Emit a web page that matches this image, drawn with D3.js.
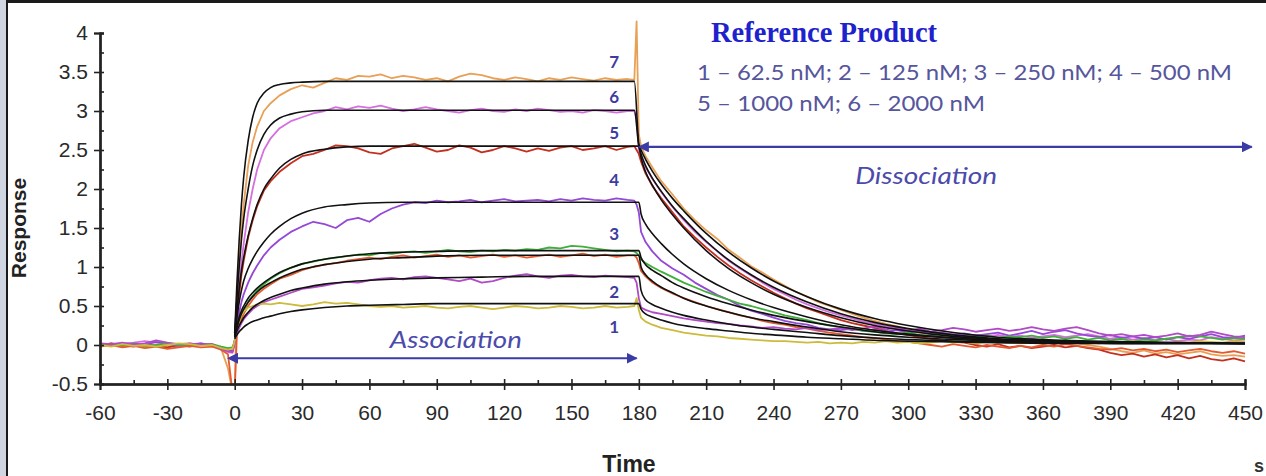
<!DOCTYPE html>
<html>
<head>
<meta charset="utf-8">
<script src="https://cdn.jsdelivr.net/npm/d3@7"></script>
<style>
  body { margin: 0; background: #fff; }
</style>
</head>
<body>
<svg class="chart" width="1266" height="476"></svg>
<script>
// time points of the measured traces (s)
var tMeas = [-60,-55,-50,-45,-40,-35,-30,-25,-20,-15,-10,-6,-3,-1,
  0,1,2,3,4,6,8,10,13,16,20,25,
  30,35,40,45,50,55,60,65,70,75,80,85,90,95,100,105,110,115,120,125,130,135,140,145,150,155,160,165,170,175,
  178,179,180,181,183,186,
  190,195,200,205,210,215,220,225,230,235,240,245,250,255,260,265,270,275,280,285,290,295,300,
  305,310,315,320,325,330,335,340,345,350,355,360,365,370,375,380,385,390,395,400,405,410,415,420,425,430,435,440,445,450];

// measured responses, one array per trace
var trace7 = [0.0,0.02,-0.01,0.01,-0.02,0.0,-0.03,-0.01,0.02,0.0,0.01,-0.05,-0.3,-0.6,
  -0.6,0.6,1.1,1.5,1.8,2.3,2.6,2.8,3.0,3.1,3.2,3.28,
  3.33,3.3,3.36,3.42,3.4,3.45,3.44,3.47,3.42,3.45,3.43,3.4,3.42,3.38,3.44,3.48,3.46,3.42,3.4,3.43,3.41,3.38,3.42,3.4,3.43,3.41,3.39,3.42,3.4,3.41,
  3.4,4.15,2.7,2.55,2.42,2.28,
  2.1,1.93,1.75,1.6,1.47,1.36,1.22,1.12,1.01,0.93,0.84,0.76,0.68,0.62,0.55,0.5,0.45,0.4,0.35,0.31,0.27,0.24,0.2,
  0.16,0.14,0.12,0.1,0.08,0.05,0.04,0.06,0.03,0.02,0.04,0.02,0.03,0.01,0.02,0.0,-0.02,-0.05,-0.08,-0.1,-0.07,-0.11,-0.09,-0.12,-0.1,-0.08,-0.12,-0.14,-0.13,-0.15];
var trace6 = [0.01,0.0,0.02,0.03,0.05,0.03,0.02,0.0,0.01,0.02,0.0,-0.06,-0.09,-0.1,
  0.0,0.4,0.75,1.05,1.3,1.7,2.0,2.25,2.5,2.65,2.78,2.87,
  2.92,2.97,3.0,3.05,3.02,3.06,3.04,3.07,3.03,3.0,3.02,3.05,3.02,3.0,2.98,3.01,3.03,3.0,2.99,3.02,3.0,3.03,3.01,2.99,3.0,2.98,3.01,3.0,2.98,3.0,
  3.0,2.9,2.5,2.4,2.28,2.13,
  1.96,1.77,1.6,1.45,1.32,1.2,1.08,0.98,0.89,0.8,0.72,0.65,0.58,0.52,0.47,0.42,0.38,0.34,0.3,0.27,0.24,0.22,0.2,
  0.19,0.16,0.15,0.14,0.13,0.12,0.11,0.13,0.1,0.12,0.09,0.11,0.13,0.1,0.12,0.14,0.11,0.08,0.1,0.07,0.09,0.06,0.08,0.05,0.07,0.06,0.1,0.08,0.06,0.07];
var trace5 = [-0.01,0.02,0.0,-0.02,0.01,-0.01,-0.03,0.0,-0.02,0.01,0.0,-0.03,-0.05,-0.08,
  0.05,0.35,0.65,0.9,1.08,1.38,1.6,1.78,1.98,2.1,2.22,2.33,
  2.42,2.45,2.5,2.56,2.55,2.52,2.47,2.45,2.52,2.55,2.58,2.53,2.48,2.5,2.56,2.53,2.47,2.5,2.55,2.52,2.48,2.52,2.49,2.53,2.55,2.5,2.52,2.55,2.5,2.54,
  2.55,2.5,2.45,2.35,2.2,2.04,
  1.88,1.7,1.52,1.38,1.25,1.13,1.02,0.92,0.83,0.75,0.67,0.6,0.53,0.47,0.42,0.37,0.32,0.28,0.25,0.22,0.18,0.15,0.13,
  0.1,0.08,0.06,0.04,0.03,0.0,-0.02,0.01,-0.03,-0.01,-0.04,-0.02,0.0,-0.03,-0.01,-0.04,-0.06,-0.1,-0.13,-0.11,-0.15,-0.12,-0.16,-0.13,-0.17,-0.14,-0.18,-0.2,-0.17,-0.21];
var trace4 = [0.0,0.01,-0.01,0.02,0.0,0.04,0.01,-0.01,0.0,0.02,-0.01,-0.04,-0.07,-0.06,
  0.05,0.25,0.42,0.55,0.65,0.8,0.92,1.02,1.15,1.25,1.35,1.45,
  1.52,1.58,1.55,1.5,1.6,1.63,1.58,1.68,1.75,1.8,1.83,1.82,1.85,1.83,1.84,1.86,1.83,1.85,1.87,1.84,1.85,1.86,1.84,1.87,1.85,1.88,1.86,1.85,1.88,1.86,
  1.85,1.8,1.7,1.45,1.32,1.2,
  1.08,0.98,0.9,0.8,0.72,0.64,0.58,0.5,0.44,0.4,0.35,0.31,0.28,0.26,0.22,0.2,0.19,0.21,0.18,0.2,0.17,0.19,0.16,
  0.18,0.14,0.16,0.13,0.15,0.12,0.14,0.16,0.12,0.15,0.18,0.14,0.17,0.19,0.15,0.12,0.1,0.13,0.09,0.11,0.08,0.1,0.07,0.1,0.08,0.11,0.14,0.1,0.09,0.12];
var trace3a = [0.01,-0.01,0.0,0.01,-0.01,0.0,0.02,0.0,-0.01,0.0,0.01,-0.02,-0.04,-0.03,
  0.05,0.18,0.28,0.36,0.43,0.55,0.63,0.7,0.78,0.85,0.92,0.99,
  1.04,1.07,1.1,1.12,1.14,1.16,1.15,1.18,1.17,1.19,1.2,1.18,1.2,1.22,1.2,1.19,1.21,1.2,1.22,1.21,1.23,1.22,1.25,1.24,1.27,1.26,1.24,1.22,1.2,1.21,
  1.2,1.18,1.15,1.1,1.05,1.0,
  0.94,0.87,0.8,0.74,0.68,0.63,0.58,0.53,0.5,0.46,0.42,0.38,0.35,0.32,0.28,0.25,0.23,0.21,0.18,0.17,0.15,0.14,0.16,
  0.13,0.12,0.14,0.11,0.12,0.1,0.12,0.09,0.11,0.1,0.12,0.09,0.11,0.08,0.1,0.07,0.09,0.06,0.08,0.05,0.07,0.06,0.08,0.1,0.12,0.11,0.09,0.07,0.09,0.08];
var trace3b = [-0.02,0.0,-0.03,-0.01,-0.04,-0.02,-0.05,-0.03,-0.01,-0.03,-0.02,-0.06,-0.12,-0.6,
  -0.6,0.15,0.25,0.33,0.4,0.5,0.58,0.65,0.72,0.78,0.85,0.9,
  0.96,1.0,1.03,1.05,1.08,1.1,1.12,1.1,1.13,1.15,1.12,1.14,1.16,1.13,1.15,1.12,1.14,1.16,1.13,1.15,1.12,1.14,1.16,1.13,1.15,1.17,1.14,1.16,1.13,1.15,
  1.15,1.12,1.05,0.95,0.88,0.8,
  0.73,0.66,0.6,0.55,0.5,0.46,0.42,0.38,0.35,0.31,0.28,0.26,0.23,0.21,0.18,0.16,0.14,0.12,0.1,0.09,0.07,0.05,0.04,
  0.02,0.0,-0.02,0.01,-0.01,-0.03,0.0,-0.02,-0.04,-0.01,-0.03,0.0,-0.02,0.01,-0.01,-0.03,-0.05,-0.06,-0.04,-0.07,-0.05,-0.08,-0.06,-0.09,-0.07,-0.05,-0.08,-0.1,-0.08,-0.11];
var trace2 = [0.02,0.01,0.03,0.0,0.02,0.06,0.03,0.01,0.02,0.0,0.01,-0.05,-0.08,-0.09,
  0.05,0.14,0.22,0.28,0.33,0.4,0.46,0.5,0.55,0.58,0.62,0.67,
  0.72,0.74,0.76,0.79,0.81,0.8,0.83,0.85,0.86,0.84,0.87,0.88,0.86,0.84,0.82,0.85,0.8,0.82,0.86,0.89,0.91,0.88,0.86,0.89,0.9,0.88,0.87,0.89,0.88,0.87,
  0.86,0.8,0.6,0.48,0.45,0.42,
  0.4,0.37,0.34,0.32,0.3,0.28,0.27,0.25,0.24,0.22,0.23,0.21,0.2,0.22,0.19,0.2,0.22,0.19,0.21,0.24,0.2,0.22,0.18,
  0.21,0.17,0.19,0.22,0.2,0.17,0.19,0.21,0.18,0.2,0.23,0.2,0.18,0.21,0.23,0.19,0.15,0.12,0.14,0.11,0.13,0.1,0.12,0.15,0.11,0.13,0.17,0.14,0.11,0.1];
var trace1 = [0.0,-0.02,0.01,-0.01,0.0,-0.02,0.0,0.02,0.01,-0.01,0.0,-0.04,-0.06,-0.05,
  0.05,0.2,0.3,0.38,0.43,0.48,0.5,0.52,0.53,0.52,0.54,0.52,
  0.5,0.52,0.55,0.53,0.54,0.52,0.5,0.49,0.5,0.48,0.49,0.5,0.48,0.47,0.49,0.5,0.48,0.46,0.48,0.5,0.49,0.47,0.48,0.5,0.49,0.47,0.48,0.5,0.48,0.49,
  0.5,0.6,0.45,0.35,0.3,0.26,
  0.22,0.19,0.16,0.14,0.12,0.11,0.09,0.08,0.07,0.06,0.05,0.05,0.04,0.03,0.04,0.02,0.03,0.02,0.04,0.03,0.05,0.03,0.04,
  0.02,0.03,0.05,0.03,0.04,0.02,0.04,0.03,0.05,0.03,0.04,0.02,0.04,0.03,0.05,0.03,0.02,0.04,0.03,0.05,0.03,0.04,0.02,0.04,0.03,0.05,0.04,0.03,0.05,0.04];

var traceNames  = ["7", "6", "5", "4", "3a", "3b", "2", "1"];
var traceValues = [trace7, trace6, trace5, trace4, trace3a, trace3b, trace2, trace1];
var traceColors = ["#e8a055", "#d56fe0", "#c4301f", "#9548d6", "#3fae3a", "#e45a30", "#b04ac6", "#cdbb3c"];

// fitted curves (black)
var tFit = [0,1,2,3,4,6,8,10,13,16,20,25,30,40,50,60,75,90,110,130,155,178,
  180,181,183,186,190,195,200,210,220,230,240,255,270,285,300,320,340,370,400,450];
var fit7 = [0.15,0.8,1.35,1.8,2.15,2.62,2.92,3.1,3.23,3.3,3.34,3.36,3.37,3.38,3.38,3.38,3.38,3.38,3.38,3.38,3.38,3.38,
  2.58,2.5,2.38,2.23,2.06,1.88,1.72,1.43,1.19,0.99,0.82,0.62,0.46,0.34,0.25,0.16,0.1,0.06,0.04,0.02];
var fit6 = [0.15,0.6,1.0,1.35,1.62,2.0,2.3,2.5,2.7,2.82,2.91,2.96,2.99,3.01,3.01,3.01,3.01,3.01,3.01,3.01,3.01,3.01,
  2.55,2.45,2.3,2.14,1.97,1.78,1.62,1.33,1.09,0.9,0.74,0.55,0.4,0.29,0.21,0.13,0.08,0.05,0.03,0.02];
var fit5 = [0.15,0.45,0.72,0.95,1.12,1.4,1.62,1.8,2.0,2.13,2.27,2.38,2.45,2.51,2.54,2.55,2.55,2.55,2.55,2.55,2.55,2.55,
  2.55,2.4,2.22,2.05,1.86,1.67,1.5,1.21,0.98,0.8,0.65,0.48,0.35,0.25,0.18,0.11,0.07,0.04,0.03,0.02];
var fit4 = [0.12,0.35,0.55,0.7,0.82,0.98,1.1,1.2,1.32,1.42,1.52,1.62,1.69,1.77,1.8,1.82,1.83,1.83,1.83,1.83,1.83,1.83,
  1.83,1.68,1.55,1.43,1.3,1.16,1.04,0.85,0.7,0.58,0.48,0.36,0.26,0.19,0.14,0.09,0.06,0.04,0.03,0.02];
var fit3a = [0.12,0.25,0.36,0.44,0.5,0.6,0.67,0.73,0.8,0.86,0.93,0.99,1.04,1.1,1.14,1.17,1.19,1.2,1.21,1.21,1.21,1.21,
  1.21,1.12,1.03,0.96,0.89,0.8,0.73,0.62,0.53,0.45,0.38,0.3,0.23,0.17,0.13,0.09,0.06,0.04,0.03,0.02];
var fit3b = [0.1,0.22,0.32,0.4,0.46,0.55,0.62,0.68,0.75,0.8,0.86,0.92,0.97,1.03,1.07,1.1,1.12,1.14,1.15,1.15,1.15,1.15,
  1.15,1.0,0.9,0.82,0.74,0.67,0.6,0.5,0.42,0.35,0.3,0.23,0.17,0.13,0.1,0.07,0.05,0.03,0.02,0.02];
var fit2 = [0.1,0.18,0.25,0.3,0.35,0.42,0.48,0.52,0.57,0.61,0.65,0.7,0.73,0.78,0.81,0.83,0.85,0.86,0.87,0.88,0.88,0.88,
  0.88,0.7,0.58,0.52,0.47,0.42,0.38,0.32,0.27,0.23,0.2,0.16,0.12,0.09,0.07,0.05,0.04,0.03,0.02,0.02];
var fit1 = [0.08,0.13,0.17,0.2,0.23,0.27,0.3,0.32,0.35,0.37,0.4,0.43,0.45,0.48,0.5,0.51,0.52,0.53,0.53,0.53,0.53,0.53,
  0.53,0.46,0.4,0.36,0.32,0.28,0.25,0.21,0.18,0.15,0.13,0.1,0.08,0.06,0.05,0.04,0.03,0.02,0.02,0.02];
var fitValues = [fit7, fit6, fit5, fit4, fit3a, fit3b, fit2, fit1];

// curve number labels
var curveLabels = ["7", "6", "5", "4", "3", "2", "1"];
var curveLabelY = [3.63, 3.18, 2.72, 2.12, 1.42, 0.68, 0.23];

var xTicks = [-60,-30,0,30,60,90,120,150,180,210,240,270,300,330,360,390,420,450];
var yTicks = [-0.5,0,0.5,1,1.5,2,2.5,3,3.5,4];

var svg = d3.select(".chart");
var W = +svg.attr("width"), H = +svg.attr("height");

svg.append("rect").attr("width", W).attr("height", H).attr("fill", "#fff");
// frame of the screenshot
svg.append("rect").attr("x", 0).attr("y", 0).attr("width", 6).attr("height", H).attr("fill", "#cfd6e1");
svg.append("line").attr("x1", 7).attr("x2", 7).attr("y1", 0).attr("y2", H).attr("stroke", "#1a1a1a").attr("stroke-width", 2);
svg.append("line").attr("x1", 6).attr("x2", W).attr("y1", 1.5).attr("y2", 1.5).attr("stroke", "#1a1a1a").attr("stroke-width", 3);

var xScale = d3.scaleLinear().domain([-60, 450]).range([100, 1245]);
var yScale = d3.scaleLinear().domain([-0.5, 4]).range([384, 33]);

svg.append("clipPath").attr("id", "plotclip")
  .append("rect")
  .attr("x", xScale(-60)).attr("y", yScale(4.2))
  .attr("width", xScale(450) - xScale(-60) + 4)
  .attr("height", yScale(-0.5) - yScale(4.2));

var plot = svg.append("g").attr("clip-path", "url(#plotclip)");

var lineMeas = d3.line()
  .defined(function (d) { return d[1] !== undefined; })
  .x(function (d) { return xScale(d[0]); })
  .y(function (d) { return yScale(d[1]); });

traceValues.forEach(function (vals, i) {
  var pts = tMeas.map(function (t, j) { return [t, vals[j]]; });
  plot.append("path")
    .datum(pts)
    .attr("fill", "none")
    .attr("stroke", traceColors[i])
    .attr("stroke-width", 1.8)
    .attr("stroke-linejoin", "round")
    .attr("d", lineMeas);
});

var lineFit = d3.line()
  .curve(d3.curveMonotoneX)
  .x(function (d) { return xScale(d[0]); })
  .y(function (d) { return yScale(d[1]); });

fitValues.forEach(function (vals) {
  var pts = tFit.map(function (t, j) { return [t, vals[j]]; });
  plot.append("path")
    .datum(pts)
    .attr("fill", "none")
    .attr("stroke", "#111")
    .attr("stroke-width", 1.6)
    .attr("d", lineFit);
});

// axes
var fontTick = "\"Liberation Sans Narrow\", \"Liberation Sans\", Arial, sans-serif";
var plainNum = function (d) { return String(d); };   // hyphen minus like the original
var xMinor = xTicks.slice(1).map(function (t) { return t - 15; });
var yMinor = yTicks.slice(1).map(function (v) { return v - 0.25; });

var gx = svg.append("g").attr("transform", "translate(0," + yScale(-0.5) + ")")
  .call(d3.axisBottom(xScale).tickValues(xTicks).tickSize(6).tickPadding(15).tickFormat(plainNum));
gx.append("g").call(d3.axisBottom(xScale).tickValues(xTicks).tickSize(-5).tickFormat(""));
gx.append("g").call(d3.axisBottom(xScale).tickValues(xMinor).tickSize(-4).tickFormat(""));
gx.selectAll("path.domain").attr("stroke", "#222").attr("stroke-width", 2);
gx.selectAll("line").attr("stroke", "#222").attr("stroke-width", 1.6);
gx.selectAll("text").style("font-family", fontTick).style("font-size", "21px").attr("fill", "#2a2a2a");

var gy = svg.append("g").attr("transform", "translate(" + xScale(-60) + ",0)")
  .call(d3.axisLeft(yScale).tickValues(yTicks).tickSize(6).tickPadding(6).tickFormat(plainNum));
gy.append("g").call(d3.axisLeft(yScale).tickValues(yTicks).tickSize(-4).tickFormat(""));
gy.append("g").call(d3.axisLeft(yScale).tickValues(yMinor).tickSize(-4).tickFormat(""));
gy.selectAll("path.domain").attr("stroke", "#222").attr("stroke-width", 2);
gy.selectAll("line").attr("stroke", "#222").attr("stroke-width", 1.6);
gy.selectAll("text").style("font-family", fontTick).style("font-size", "21px").attr("fill", "#2a2a2a");

// axis titles
svg.append("text")
  .attr("transform", "translate(26," + yScale(1.5) + ") rotate(-90)")
  .attr("text-anchor", "middle")
  .style("font-family", "\"Liberation Sans\", Arial, sans-serif")
  .style("font-weight", "bold").style("font-size", "21px").attr("fill", "#222")
  .text("Response");
svg.append("text")
  .attr("x", 629).attr("y", 472)
  .attr("text-anchor", "middle")
  .style("font-family", fontTick)
  .style("font-weight", "bold").style("font-size", "23px").attr("fill", "#222")
  .text("Time");
svg.append("text")
  .attr("x", 1254).attr("y", 472)
  .style("font-family", fontTick)
  .style("font-weight", "bold").style("font-size", "18px").attr("fill", "#333")
  .text("s");

// curve numbers
svg.selectAll("text.curveLabel")
  .data(curveLabels)
  .enter()
  .append("text")
  .attr("class", "curveLabel")
  .attr("x", xScale(169))
  .attr("y", function (d, i) { return yScale(curveLabelY[i]); })
  .attr("dy", "0.35em")
  .attr("text-anchor", "middle")
  .style("font-family", "Lato, \"Open Sans\", sans-serif")
  .style("font-weight", "bold").style("font-size", "17px")
  .attr("fill", "#3d3d9e")
  .text(function (d) { return d; });

// phase arrows
var arrowColor = "#3b3ba6";
var defs = svg.append("defs");
["start", "end"].forEach(function (k) {
  defs.append("marker")
    .attr("id", "arrow-" + k)
    .attr("viewBox", "0 0 10 10")
    .attr("refX", k === "end" ? 9 : 1).attr("refY", 5)
    .attr("markerWidth", 5).attr("markerHeight", 5)
    .attr("orient", k === "end" ? "auto" : "auto-start-reverse")
    .append("path").attr("d", "M0,0 L10,5 L0,10 z").attr("fill", arrowColor);
});

function phaseArrow(t0, t1, v) {
  svg.append("line")
    .attr("x1", xScale(t0)).attr("x2", xScale(t1))
    .attr("y1", yScale(v)).attr("y2", yScale(v))
    .attr("stroke", arrowColor).attr("stroke-width", 2.2)
    .attr("marker-start", "url(#arrow-start)")
    .attr("marker-end", "url(#arrow-end)");
}
phaseArrow(1, 179, -0.17);
phaseArrow(184, 453, 2.54);

var fontNote = "Lato, \"Open Sans\", sans-serif";
svg.append("text")
  .attr("x", xScale(98.5)).attr("y", yScale(-0.04))
  .attr("text-anchor", "middle")
  .attr("textLength", 132).attr("lengthAdjust", "spacingAndGlyphs")
  .style("font-family", fontNote).style("font-style", "italic").style("font-size", "24px")
  .attr("fill", "#4b4bab")
  .text("Association");
svg.append("text")
  .attr("x", xScale(308)).attr("y", yScale(2.07))
  .attr("text-anchor", "middle")
  .attr("textLength", 142).attr("lengthAdjust", "spacingAndGlyphs")
  .style("font-family", fontNote).style("font-style", "italic").style("font-size", "24px")
  .attr("fill", "#4b4bab")
  .text("Dissociation");

// legend block
svg.append("text")
  .attr("x", 711).attr("y", 42)
  .style("font-family", "\"Liberation Serif\", \"Times New Roman\", serif")
  .style("font-weight", "bold").style("font-size", "28.5px")
  .attr("fill", "#1e22cc")
  .text("Reference Product");
svg.append("text")
  .attr("x", 697).attr("y", 80)
  .attr("textLength", 535).attr("lengthAdjust", "spacingAndGlyphs")
  .style("font-family", fontNote).style("font-size", "22px")
  .attr("fill", "#56569c")
  .text("1 \u2013 62.5 nM; 2 \u2013 125 nM; 3 \u2013 250 nM; 4 \u2013 500 nM");
svg.append("text")
  .attr("x", 697).attr("y", 111)
  .attr("textLength", 288).attr("lengthAdjust", "spacingAndGlyphs")
  .style("font-family", fontNote).style("font-size", "22px")
  .attr("fill", "#56569c")
  .text("5 \u2013 1000 nM; 6 \u2013 2000 nM");
</script>
</body>
</html>
